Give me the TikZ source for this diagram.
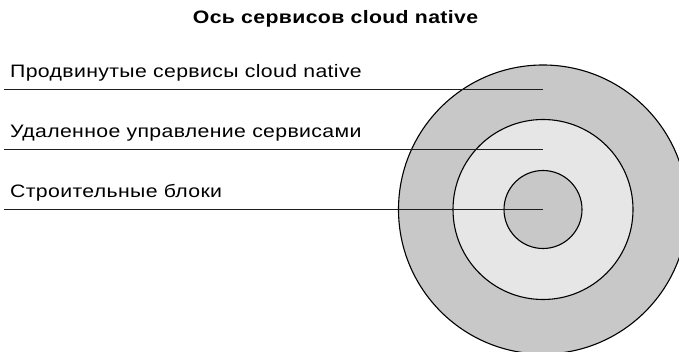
\documentclass[tikz,border=0pt]{standalone}
\usepackage{fontspec}
\setmainfont{Liberation Sans}[FakeStretch=1.18, LetterSpace=2]
\definecolor{ringdark}{HTML}{C8C8C8}
\definecolor{ringlight}{HTML}{E6E6E6}
\definecolor{inkline}{HTML}{1E1E1E}
\tikzset{
  ring/.style={draw=black, line width=1.1pt},
  leader/.style={draw=inkline, line width=1.3pt},
  layerlabel/.style={inner sep=0pt, anchor=base west, font=\fontsize{18}{21}\selectfont},
  heading/.style={inner sep=0pt, anchor=base, font=\fontsize{18}{21}\selectfont\bfseries},
}
\begin{document}
\begin{tikzpicture}[x=1pt,y=-1pt]
  \useasboundingbox (0,0) rectangle (679,352);
  \fill[white] (0,0) rectangle (679,352);
  \coordinate (c) at (543,209.5);

  % concentric layers
  \begin{scope}
    \clip (0,0) rectangle (679,352);
    \draw[ring, fill=ringdark] (c) circle[radius=144.5];
  \end{scope}
  \draw[ring, fill=ringlight] (c) circle[radius=90];
  \draw[ring, fill=ringdark] (c) circle[radius=39];

  % heading
  \node[heading] (title) at (335.5,24) {Ось сервисов cloud native};

  % layer labels
  \node[layerlabel] (l1) at (10,77.5) {Продвинутые сервисы cloud native};
  \node[layerlabel] (l2) at (10,137.5) {Удаленное управление сервисами};
  \node[layerlabel] (l3) at (10,197.5) {Строительные блоки};

  % leader lines into the rings
  \coordinate (s1) at (4,89.5);
  \coordinate (s2) at (4,149.5);
  \coordinate (s3) at (4,209.5);
  \draw[leader] (s1) -- (c |- s1);
  \draw[leader] (s2) -- (c |- s2);
  \draw[leader] (s3) -- (c);
\end{tikzpicture}
\end{document}
